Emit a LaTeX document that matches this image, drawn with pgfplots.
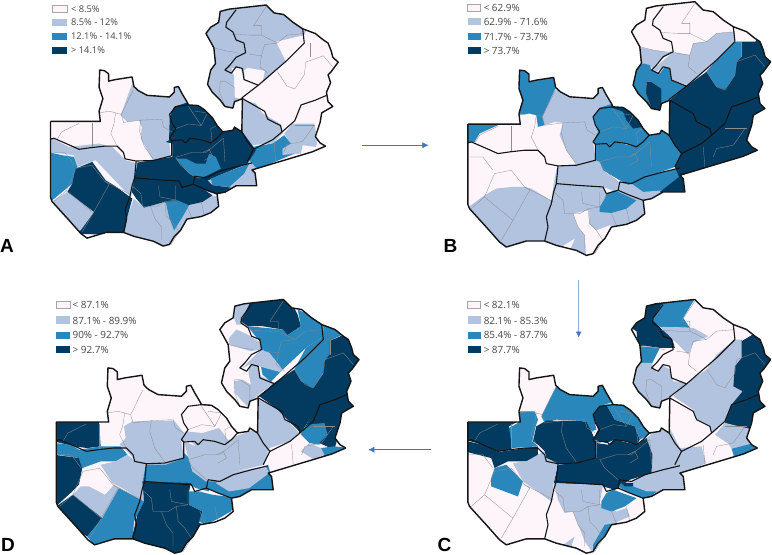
\documentclass[border=0pt]{standalone}
\usepackage{fontspec}
\setmainfont{Open Sans}
\newfontfamily\lett{Liberation Sans}
\usepackage{pgfplots}
\pgfplotsset{compat=1.18}
\usetikzlibrary{arrows.meta}

\definecolor{c0}{HTML}{FEF5FA}
\definecolor{c1}{HTML}{B2C3DF}
\definecolor{c2}{HTML}{2A87BC}
\definecolor{c3}{HTML}{033B60}
\definecolor{arrowc}{HTML}{4472C4}

% crop = picture pixels*3 inside one panel, base = the shared country shape
\pgfplotsset{
  crop/.style={x filter/.expression={x/3+\ox},y filter/.expression={y/3+\oy}},
  base/.style={x filter/.expression={x*\ss/3+\bx},y filter/.expression={y*\ss/3+\by}},
}
\newcommand{\pc}[2]{\addplot[fill=#1,draw=none,crop] coordinates {#2};}
\newcommand{\dl}[1]{\addplot[draw=black!45,line width=0.3pt,base] coordinates {#1};}
\newcommand{\pl}[1]{\addplot[draw=black!92,line width=1.1pt,line join=round,base] coordinates {#1};}
% whole Lusaka province as an underlay, so no pale slivers stay between patches
\newcommand{\lusaka}[1]{\addplot[fill=#1,draw=none,base] coordinates {(565,570)(570,545)(605,550)(645,530)(700,515)(750,503)(760,535)(765,575)(700,575)(665,595)(640,600)(600,585)};}

% rectangle first (rows 0-4), then the country outline
\newcommand{\shape}[1]{\addplot[base,#1] coordinates {
 (60,-10)(1060,-10)(1060,790)(60,790)(60,-10)
 (115,372)(272,372)(268,340)(280,300)(268,265)(270,210)(285,212)(298,222)(298,245)(320,240)(372,232)
 (378,262)(392,275)(420,290)(450,292)(490,295)(505,280)(505,265)(518,262)(530,285)(545,310)(550,320)
 (580,322)(600,335)(625,360)(640,385)(658,405)(690,400)(695,390)(718,405)(720,300)(695,310)(690,330)
 (665,325)(650,305)(625,280)(610,255)(620,210)(635,190)(630,140)(605,95)(620,75)(645,60)(650,25)
 (678,18)(795,5)(820,30)(850,35)(880,60)(910,80)(950,95)(975,115)(990,125)(1000,150)(1005,170)
 (1022,185)(1000,215)(990,225)(998,250)(985,280)(990,310)(1005,325)(970,345)(965,375)(950,420)
 (965,440)(982,450)(940,468)(750,525)(760,535)(765,575)(700,575)(665,595)(640,600)(645,640)(620,660)
 (590,672)(545,680)(525,715)(505,735)(490,760)(470,765)(440,750)(380,735)(345,722)(290,722)(230,740)
 (210,725)(170,680)(120,625)(115,612)(115,372)
};}

\newcommand{\finish}{%
  \shape{fill=white,draw=none,even odd rule}
  \dl{(320,345)(315,380)(305,410)(325,450)}
  \dl{(245,378)(245,455)}
  \dl{(205,378)(150,405)(135,430)}
  \dl{(345,375)(338,350)(320,345)(300,340)(268,345)}
  \dl{(338,350)(375,275)}
  \dl{(345,375)(400,368)(395,400)(410,450)(440,492)}
  \dl{(400,368)(465,365)(472,390)(497,405)}
  \dl{(550,325)(570,355)(590,385)(550,380)(510,395)}
  \dl{(640,385)(620,395)(625,440)}
  \dl{(570,340)(610,345)(590,385)}
  \dl{(510,485)(560,470)(605,470)(660,425)(665,500)}
  \dl{(510,485)(525,510)(565,545)}
  \dl{(600,495)(625,480)(615,460)(595,470)}
  \dl{(372,575)(400,600)(405,640)(450,640)(475,625)(480,670)(500,690)(520,720)(495,760)}
  \dl{(455,575)(460,610)(510,620)}
  \dl{(510,575)(510,620)(475,625)}
  \dl{(430,640)(445,680)(465,705)(465,745)}
  \dl{(545,640)(560,675)}
  \dl{(590,625)(600,670)}
  \dl{(125,625)(165,590)(250,660)(215,720)}
  \dl{(250,660)(300,570)(285,560)}
  \dl{(165,590)(195,520)(245,510)(285,560)(372,605)}
  \dl{(190,510)(160,470)(115,470)}
  \dl{(830,215)(860,260)(885,270)(915,225)(920,185)(975,165)(1005,200)}
  \dl{(935,125)(935,170)}
  \dl{(820,440)(825,500)}
  \dl{(850,470)(860,445)(910,435)(945,385)}
  \dl{(885,385)(950,385)}
  \dl{(690,97)(745,100)(780,100)(780,70)(755,70)(795,10)}
  \dl{(780,100)(830,125)(860,100)(915,95)}
  \dl{(780,165)(790,130)(830,125)}
  \dl{(740,160)(780,165)(775,200)(800,220)}
  \dl{(630,140)(670,150)(705,155)}
  \dl{(650,245)(665,245)(695,265)(695,310)}
  \dl{(650,245)(648,280)(665,325)}
  \pl{(115,428)(125,425)(160,440)(205,460)(240,455)(285,450)(325,450)(345,470)(350,490)(385,497)(440,495)(497,480)(497,432)}
  \pl{(550,320)(510,325)(490,350)(497,375)(510,395)(490,425)(497,432)(530,430)(540,440)(555,425)(590,430)(620,440)(640,425)(658,405)}
  \pl{(385,497)(380,550)(372,575)(365,610)(350,650)(355,680)(345,722)}
  \pl{(380,550)(440,555)(520,560)(530,580)(565,570)(600,585)(640,600)}
  \pl{(565,570)(570,545)(605,550)(645,530)(700,515)(750,503)}
  \pl{(735,500)(755,460)(735,435)(718,405)}
  \pl{(755,460)(815,430)(845,405)(840,385)(800,365)(790,340)(720,300)}
  \pl{(845,405)(885,370)(905,320)(950,305)(985,290)}
  \pl{(718,298)(770,258)(860,180)(905,135)(915,125)(910,80)}
  \pl{(700,20)(670,60)(668,75)(690,90)(700,115)(725,125)(730,155)(700,170)(680,195)(665,210)(685,220)(700,200)(720,205)(725,240)(770,258)}
  \shape{draw=black!92,line width=1.4pt,line join=round,skip coords between index={0}{5}}
}

\begin{document}
\begin{tikzpicture}
\begin{axis}[x=1pt,y=1pt,scale only axis,y dir=reverse,hide axis,
  xmin=0,xmax=772,ymin=0,ymax=554,clip=true]

%%%%%%%% panel A
\def\ss{0.95}\def\bx{15.25}\def\by{3.42}\def\ox{0}\def\oy{0}
\shape{fill=c0,draw=none,skip coords between index={0}{5}}
\lusaka{c1}
\pc{c1}{(365,345)(385,365)(420,360)(428,380)(425,415)(465,485)(515,472)(510,415)(528,380)(512,350)(525,320)(570,315)(560,250)(400,250)}
\pc{c1}{(600,10)(810,0)(930,70)(915,105)(830,125)(860,185)(790,248)(797,212)(745,203)(735,210)(738,245)(725,205)(697,203)(705,230)(705,305)(725,305)(700,345)(600,345)}
\pc{c1}{(700,290)(770,310)(790,340)(845,372)(850,400)(820,430)(750,435)(700,435)}
\pc{c1}{(855,400)(880,370)(945,370)(955,420)(950,440)(910,435)(905,460)(850,465)(850,445)(875,430)}
\pc{c2}{(745,480)(760,440)(820,430)(855,405)(875,430)(850,445)(850,465)(885,460)(745,520)}
\pc{c3}{(510,420)(512,350)(525,320)(570,305)(610,310)(640,340)(680,395)(640,425)(590,435)(520,430)(500,425)}
\pc{c3}{(520,425)(590,435)(665,395)(715,375)(770,450)(745,490)(660,525)(585,560)(540,560)(520,548)(400,540)(415,487)(520,470)}
\pc{c2}{(530,475)(560,475)(590,490)(620,490)(630,460)(650,470)(665,505)(625,525)(600,535)(570,520)}
\pc{c1}{(735,520)(750,480)(785,520)(785,575)(690,570)}
\pc{c2}{(635,535)(750,490)(735,520)(690,560)(640,555)}
\pc{c3}{(580,535)(620,535)(640,555)(695,562)(660,585)(600,565)}
\pc{c1}{(405,595)(435,622)(495,600)(630,585)(670,590)(660,640)(600,690)(540,710)(500,750)(440,730)(370,710)(385,650)}
\pc{c3}{(395,530)(525,535)(540,550)(580,545)(640,585)(610,605)(565,615)(535,620)(495,605)(435,622)(412,595)(395,570)}
\pc{c2}{(500,605)(535,600)(570,615)(550,650)(525,690)(510,650)}
\pc{c1}{(150,410)(210,440)(300,430)(340,440)(380,480)(415,490)(405,540)(395,590)(290,480)(235,500)(225,465)(150,455)}
\pc{c2}{(145,455)(190,465)(225,470)(235,500)(220,550)(160,600)(145,600)}
\pc{c3}{(230,505)(280,485)(320,540)(345,555)(400,595)(385,650)(375,705)(235,700)(280,640)(205,575)(220,550)}
\pc{c1}{(150,610)(205,575)(285,635)(245,690)(150,690)}
\finish

%%%%%%%% panel B
\def\ss{1}\def\bx{430}\def\by{0}\def\ox{430}\def\oy{0}
\shape{fill=c0,draw=none,skip coords between index={0}{5}}
\lusaka{c2}
\pc{c2}{(260,195)(380,225)(378,265)(340,350)(345,375)(325,380)(320,345)(300,340)(260,345)}
\pc{c2}{(105,365)(205,375)(150,400)(135,425)(105,425)}
\pc{c1}{(338,350)(375,270)(420,270)(510,250)(550,310)(510,322)(490,350)(505,395)(490,425)(498,480)(440,492)(410,450)(390,405)(400,368)(375,365)(345,375)}
\pc{c2}{(490,425)(505,395)(490,350)(510,322)(550,310)(600,325)(650,380)(665,405)(620,440)(590,430)(555,425)(530,435)(495,432)}
\pc{c3}{(545,312)(585,310)(600,335)(640,380)(610,385)(590,360)(580,335)(545,322)}
\pc{c1}{(385,497)(440,492)(498,480)(510,485)(520,510)(565,545)(605,555)(560,575)(520,560)(372,550)(380,510)}
\pc{c2}{(498,432)(530,435)(555,425)(620,440)(660,405)(695,385)(720,400)(755,460)(735,500)(650,530)(600,555)(570,540)(520,510)(510,485)(498,480)}
\pc{c1}{(565,570)(605,550)(640,575)(700,570)(665,600)(640,605)}
\pc{c3}{(750,528)(690,575)(775,585)(770,530)(748,500)}
\pc{c1}{(372,550)(520,560)(530,580)(565,570)(650,600)(655,640)(620,670)(590,680)(545,690)(505,750)(470,775)(340,735)(355,680)(350,650)(365,610)}
\pc{c2}{(510,620)(525,595)(530,580)(555,570)(620,600)(590,625)(545,638)(510,635)}
\pc{c0}{(430,640)(478,630)(478,670)(500,690)(540,675)(565,680)(520,725)(495,770)(470,770)(465,705)(445,680)}
\pc{c0}{(395,740)(435,715)(420,750)}
\pc{c1}{(110,625)(165,585)(200,565)(245,560)(285,560)(305,565)(372,605)(350,650)(355,680)(345,730)(230,750)(110,650)}
\pc{c3}{(720,300)(770,258)(830,215)(860,180)(915,125)(985,105)(1035,190)(1010,340)(1000,460)(750,535)(735,500)(755,460)(715,405)}
\pc{c2}{(915,125)(935,125)(935,170)(920,185)(915,225)(885,268)(860,260)(830,215)(860,180)}
\pc{c0}{(910,70)(990,105)(975,125)(915,125)}
\pc{c1}{(685,195)(730,155)(780,165)(790,130)(830,125)(860,100)(915,95)(915,125)(860,180)(775,255)(725,240)(720,205)(700,200)(680,215)(665,210)}
\pc{c1}{(620,140)(670,150)(705,155)(730,155)(690,180)(670,205)(655,195)(625,190)}
\pc{c2}{(605,215)(640,190)(660,195)(665,210)(690,220)(705,200)(720,205)(725,240)(770,258)(720,298)(695,310)(660,335)(600,260)}
\pc{c3}{(650,245)(665,245)(695,265)(695,335)(665,335)(648,280)}
\finish

%%%%%%%% panel C
\def\ss{1}\def\bx{430}\def\by{297.33}\def\ox{430}\def\oy{294}
\shape{fill=c0,draw=none,skip coords between index={0}{5}}
\lusaka{c1}
\pc{c3}{(640,25)(700,25)(670,70)(690,100)(725,125)(735,160)(690,160)(655,155)(625,155)(620,110)(595,95)}
\pc{c2}{(700,25)(800,5)(760,70)(780,100)(690,97)(668,75)}
\pc{c2}{(625,155)(690,160)(665,210)(625,205)}
\pc{c1}{(625,205)(665,205)(680,235)(695,210)(720,225)(730,260)(770,265)(720,305)(695,320)(690,355)(590,320)(600,255)}
\pc{c1}{(690,97)(790,100)(835,125)(790,145)(775,180)(745,150)}
\pc{c1}{(770,265)(830,225)(860,180)(915,135)(935,135)(935,190)(915,215)(910,275)(938,290)(905,335)(885,380)(850,415)(840,395)(800,375)(790,345)(730,305)}
\pc{c3}{(935,140)(985,110)(1040,190)(1020,340)(975,365)(970,410)(885,385)(905,330)(938,290)(910,275)(915,215)(935,190)}
\pc{c1}{(885,385)(970,405)(955,435)(960,450)(905,462)(895,447)(855,420)}
\pc{c2}{(905,462)(965,447)(995,460)(915,495)}
\pc{c1}{(750,460)(815,455)(828,505)(755,545)(735,510)(755,470)}
\pc{c1}{(650,430)(695,395)(720,400)(755,470)(735,515)(665,535)(668,480)}
\pc{c3}{(500,445)(535,450)(555,435)(620,450)(650,430)(668,480)(665,535)(600,555)(555,585)(520,575)(372,565)(385,510)(440,505)(500,490)}
\pc{c3}{(490,435)(505,405)(490,360)(510,335)(530,330)(555,375)(615,395)(630,435)(620,450)(590,440)(555,435)(530,445)}
\pc{c2}{(530,330)(580,325)(620,365)(665,415)(630,435)(615,395)(555,375)}
\pc{c2}{(335,365)(380,275)(420,285)(500,290)(515,260)(555,320)(510,335)(490,360)(500,405)(485,410)(470,380)(380,375)(345,385)}
\pc{c3}{(320,395)(350,378)(470,380)(485,410)(498,440)(500,490)(440,505)(385,507)(350,490)(345,470)(325,450)(310,440)}
\pc{c2}{(270,350)(315,350)(325,375)(318,395)(308,440)(325,455)(245,460)(238,400)(265,385)}
\pc{c3}{(105,375)(275,375)(238,395)(248,465)(205,470)(160,450)(105,435)}
\pc{c3}{(105,438)(160,450)(205,472)(325,455)(325,485)(290,500)(235,500)(195,520)(185,490)(105,470)}
\pc{c2}{(195,520)(230,510)(280,560)(265,605)(225,590)(185,575)(185,550)}
\pc{c1}{(250,505)(290,500)(325,480)(345,470)(350,490)(385,507)(372,565)(365,620)(280,560)}
\pc{c1}{(372,565)(520,570)(510,625)(560,650)(590,640)(600,665)(565,680)(520,725)(490,775)(465,740)(430,650)(405,655)(385,615)}
\pc{c2}{(515,620)(530,595)(550,585)(620,610)(585,635)(545,650)(515,640)}
\pc{c2}{(525,690)(560,685)(530,740)(490,775)(490,750)}
\pc{c1}{(400,750)(435,725)(425,755)}
\pc{c2}{(565,575)(575,565)(610,575)(650,590)(680,590)(655,612)(640,612)(610,600)}
\pc{c3}{(575,565)(610,565)(610,575)(585,575)}
\finish

%%%%%%%% panel D
\def\ss{1}\def\bx{19}\def\by{297.33}\def\ox{0}\def\oy{294}
\shape{fill=c0,draw=none,skip coords between index={0}{5}}
\lusaka{c2}
\pc{c3}{(165,375)(300,375)(305,455)(265,460)(225,455)(165,440)}
\pc{c2}{(165,445)(215,450)(240,465)(305,455)(365,455)(385,480)(350,500)(305,500)(250,520)(240,490)(165,478)}
\pc{c3}{(165,480)(240,490)(250,520)(240,570)(220,590)(165,640)}
\pc{c1}{(305,510)(350,500)(385,480)(410,500)(440,510)(430,565)(435,620)(370,580)(340,565)}
\pc{c1}{(222,600)(245,575)(270,575)(318,600)(345,570)(360,580)(335,640)(310,670)(285,650)}
\pc{c3}{(165,640)(222,600)(310,670)(265,725)(165,660)}
\pc{c2}{(360,580)(435,620)(405,680)(400,745)(345,745)(285,750)(265,725)(310,670)}
\pc{c1}{(375,395)(400,380)(525,378)(555,415)(545,430)(555,490)(500,510)(440,510)(410,500)(385,470)(362,450)(380,430)}
\pc{c1}{(545,430)(560,410)(610,415)(660,400)(690,440)(600,450)(590,455)(575,440)(555,440)}
\pc{c2}{(440,510)(500,510)(555,490)(555,475)(570,490)(580,530)(630,565)(630,590)(590,580)(570,568)(430,565)}
\pc{c1}{(555,440)(590,455)(610,440)(680,440)(710,425)(775,400)(810,460)(795,510)(710,530)(660,560)(620,560)(580,530)(565,480)}
\pc{c1}{(770,310)(830,340)(900,415)(870,440)(810,460)(770,420)}
\pc{c1}{(650,565)(710,530)(800,515)(810,535)(750,580)(690,590)}
\pc{c3}{(430,560)(575,565)(570,590)(570,630)(610,650)(600,685)(625,690)(580,745)(530,785)(440,770)(395,745)(415,660)(435,620)}
\pc{c2}{(570,590)(600,590)(640,600)(720,610)(695,650)(660,670)(620,690)(600,680)(610,650)(570,630)}
\pc{c1}{(700,25)(760,20)(725,70)(735,90)(712,90)(700,60)(710,50)}
\pc{c1}{(690,130)(712,105)(745,120)(785,145)(785,165)(755,170)(690,150)}
\pc{c1}{(748,235)(750,215)(775,212)(785,245)(825,265)(778,300)(755,320)(750,340)(725,315)(708,295)(705,260)(730,255)(755,270)}
\pc{c3}{(725,80)(755,20)(860,5)(880,30)(895,60)(905,95)(865,122)(850,105)(790,95)(745,95)}
\pc{c2}{(745,95)(850,105)(865,122)(905,95)(895,45)(970,80)(975,125)(920,160)(845,230)(815,262)(790,240)(785,215)(850,225)(810,175)(785,165)(785,145)}
\pc{c1}{(730,220)(785,165)(810,175)(850,225)(840,232)(790,218)(775,212)(750,210)}
\pc{c2}{(970,80)(1040,115)(990,140)(990,180)(975,200)(970,240)(940,280)(905,260)(885,225)(920,160)(975,125)}
\pc{c3}{(990,140)(1035,120)(1090,190)(1070,280)(1040,300)(965,320)(905,415)(830,340)(780,305)(825,265)(885,225)(905,260)(940,280)(970,240)(975,200)(990,180)}
\pc{c3}{(960,320)(1050,280)(1075,340)(1030,360)(1020,390)(1015,430)(1005,465)(960,445)(975,420)(975,390)(925,395)(905,420)}
\pc{c2}{(905,420)(925,390)(975,385)(985,420)(960,450)(930,445)}
\pc{c3}{(960,445)(985,420)(1010,440)(1005,460)}
\pc{c2}{(965,460)(1005,455)(1050,460)(975,490)}
\pc{c1}{(905,470)(930,445)(965,460)(975,480)(945,495)}
\finish

%%%%%%%% legends
\addplot[fill=c0,draw=black!35,line width=0.3pt] coordinates {(53,5)(68,5)(68,12)(53,12)(53,5)};
\addplot[fill=c1,draw=none] coordinates {(53,19)(68,19)(68,26)(53,26)};
\addplot[fill=c2,draw=none] coordinates {(53,33)(68,33)(68,40)(53,40)};
\addplot[fill=c3,draw=none] coordinates {(53,47)(68,47)(68,54)(53,54)};
\addplot[fill=c0,draw=black!35,line width=0.3pt] coordinates {(468,4)(481,4)(481,11)(468,11)(468,4)};
\addplot[fill=c1,draw=none] coordinates {(468,18)(481,18)(481,25)(468,25)};
\addplot[fill=c2,draw=none] coordinates {(468,33)(481,33)(481,40)(468,40)};
\addplot[fill=c3,draw=none] coordinates {(468,47)(481,47)(481,54)(468,54)};
\addplot[fill=c0,draw=black!35,line width=0.3pt] coordinates {(468,301)(481,301)(481,308)(468,308)(468,301)};
\addplot[fill=c1,draw=none] coordinates {(468,316)(481,316)(481,323)(468,323)};
\addplot[fill=c2,draw=none] coordinates {(468,331)(481,331)(481,338)(468,338)};
\addplot[fill=c3,draw=none] coordinates {(468,345)(481,345)(481,352)(468,352)};
\addplot[fill=c0,draw=black!35,line width=0.3pt] coordinates {(57,301)(71,301)(71,308)(57,308)(57,301)};
\addplot[fill=c1,draw=none] coordinates {(57,316)(71,316)(71,323)(57,323)};
\addplot[fill=c2,draw=none] coordinates {(57,331)(71,331)(71,338)(57,338)};
\addplot[fill=c3,draw=none] coordinates {(57,345)(71,345)(71,352)(57,352)};

\tikzset{lg/.style={anchor=west,inner sep=0pt,font=\fontsize{9.9}{11}\selectfont,text=black!72},
  lga/.style={lg,font=\fontsize{9.3}{11}\selectfont}}
\node[lga] at (axis cs:72,8.7) {< 8.5\%};
\node[lga] at (axis cs:72,22.4) {8.5\% - 12\%};
\node[lga] at (axis cs:72,36.2) {12.1\% - 14.1\%};
\node[lga] at (axis cs:72,50) {> 14.1\%};
\node[lg] at (axis cs:484,7.7) {< 62.9\%};
\node[lg] at (axis cs:484,22) {62.9\% - 71.6\%};
\node[lg] at (axis cs:484,36.7) {71.7\% - 73.7\%};
\node[lg] at (axis cs:484,51) {> 73.7\%};
\node[lg] at (axis cs:484,305) {< 82.1\%};
\node[lg] at (axis cs:484,320) {82.1\% - 85.3\%};
\node[lg] at (axis cs:484,334) {85.4\% - 87.7\%};
\node[lg] at (axis cs:484,349) {> 87.7\%};
\node[lg] at (axis cs:73.5,305) {< 87.1\%};
\node[lg] at (axis cs:73.5,320) {87.1\% - 89.9\%};
\node[lg] at (axis cs:73.5,334) {90\% - 92.7\%};
\node[lg] at (axis cs:73.5,349) {> 92.7\%};

% arrows
\addplot[arrowc,line width=0.5pt,-{Latex[length=6pt,width=6pt]}] coordinates {(363,145)(429,145)};
\addplot[arrowc!60,line width=0.8pt,-{Latex[length=6pt,width=6pt,color=arrowc]}] coordinates {(579,280)(579,337)};
\addplot[arrowc,line width=0.5pt,-{Latex[length=6pt,width=6pt]}] coordinates {(432,449)(369,449)};

% panel letters
\tikzset{pn/.style={anchor=base west,inner sep=0pt,font=\lett\bfseries\fontsize{19}{20}\selectfont}}
\node[pn] at (axis cs:1,252) {A};
\node[pn] at (axis cs:444,252) {B};
\node[pn] at (axis cs:438,551) {C};
\node[pn] at (axis cs:2,551) {D};
\end{axis}
\end{tikzpicture}
\end{document}
